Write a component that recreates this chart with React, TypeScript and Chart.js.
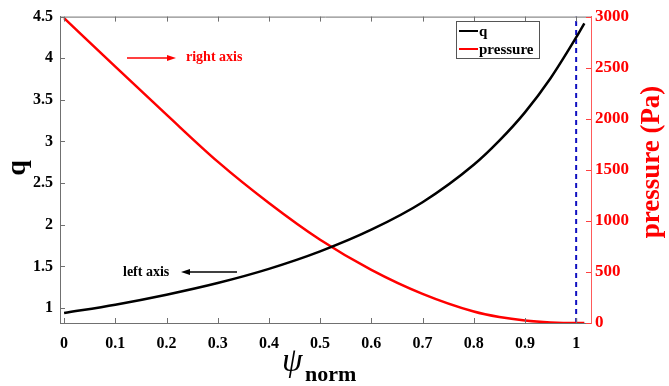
import { useEffect, useRef } from 'react';
import { Chart, registerables } from 'chart.js';

Chart.register(...registerables);

// ---- data ----
const PSI = [0, 0.1, 0.2, 0.3, 0.4, 0.5, 0.6, 0.7, 0.8, 0.85, 0.9, 0.95, 1.0, 1.016];
const Q = [0.94, 1.04, 1.16, 1.30, 1.47, 1.68, 1.94, 2.27, 2.72, 3.01, 3.35, 3.76, 4.25, 4.42];
const PRESSURE = [2985, 2510, 2040, 1580, 1175, 815, 520, 285, 112, 58, 24, 6, 0, 0];
const X_TICKS = [0, 0.1, 0.2, 0.3, 0.4, 0.5, 0.6, 0.7, 0.8, 0.9, 1];
const Q_TICKS = [1, 1.5, 2, 2.5, 3, 3.5, 4, 4.5];
const P_TICKS = [0, 500, 1000, 1500, 2000, 2500, 3000];
const SEPARATRIX = [1, 1];
const SEPARATRIX_Q = [0.82, 4.5];
const SERIES_NAMES = ['q', 'pressure'];

const FONT = '"Liberation Serif", "Times New Roman", serif';
const AXIS_GRAY = '#707070';
const RED = '#ff0000';

function arrow(ctx: CanvasRenderingContext2D, x1: number, x2: number, y: number, color: string) {
  ctx.save();
  ctx.strokeStyle = color;
  ctx.fillStyle = color;
  ctx.lineWidth = 1.5;
  const dir = Math.sign(x2 - x1);
  ctx.beginPath();
  ctx.moveTo(x1, y);
  ctx.lineTo(x2 - dir * 7, y);
  ctx.stroke();
  ctx.beginPath();
  ctx.moveTo(x2, y);
  ctx.lineTo(x2 - dir * 9, y - 3);
  ctx.lineTo(x2 - dir * 9, y + 3);
  ctx.closePath();
  ctx.fill();
  ctx.restore();
}

const overlay = {
  id: 'overlay',
  afterDraw(chart: any) {
    const ctx: CanvasRenderingContext2D = chart.ctx;
    const { left, right, top, bottom } = chart.chartArea;
    const sx = chart.scales.x;
    const sy = chart.scales.y;
    const sy1 = chart.scales.y1;
    ctx.save();
    // top border
    ctx.strokeStyle = AXIS_GRAY;
    ctx.lineWidth = 1;
    ctx.beginPath();
    ctx.moveTo(left, top + 0.5);
    ctx.lineTo(right, top + 0.5);
    ctx.stroke();
    // inward ticks
    const TL = 5;
    ctx.beginPath();
    X_TICKS.forEach((v) => {
      const px = Math.round(sx.getPixelForValue(v)) + 0.5;
      ctx.moveTo(px, bottom);
      ctx.lineTo(px, bottom - TL);
      ctx.moveTo(px, top);
      ctx.lineTo(px, top + TL);
    });
    Q_TICKS.forEach((v) => {
      const py = Math.round(sy.getPixelForValue(v)) + 0.5;
      ctx.moveTo(left, py);
      ctx.lineTo(left + TL, py);
    });
    ctx.stroke();
    ctx.strokeStyle = '#ff4040';
    ctx.beginPath();
    P_TICKS.forEach((v) => {
      const py = Math.round(sy1.getPixelForValue(v)) + 0.5;
      ctx.moveTo(right, py);
      ctx.lineTo(right - TL, py);
    });
    ctx.stroke();

    // legend
    const lx = 456, ly = 21, lw = 83, lh = 37;
    ctx.fillStyle = '#fff';
    ctx.fillRect(lx, ly, lw, lh);
    ctx.strokeStyle = '#555';
    ctx.lineWidth = 1;
    ctx.strokeRect(lx + 0.5, ly + 0.5, lw, lh);
    const colors = ['#000', RED];
    const rows = [31, 49];
    ctx.font = `bold 15px ${FONT}`;
    ctx.textBaseline = 'middle';
    ctx.textAlign = 'left';
    SERIES_NAMES.forEach((name, i) => {
      ctx.strokeStyle = colors[i];
      ctx.lineWidth = 2;
      ctx.beginPath();
      ctx.moveTo(459, rows[i]);
      ctx.lineTo(478, rows[i]);
      ctx.stroke();
      ctx.fillStyle = '#000';
      ctx.fillText(name, 479, rows[i] + 1);
    });

    // annotations
    ctx.font = `bold 14px ${FONT}`;
    ctx.fillStyle = RED;
    ctx.fillText('right axis', 186, 57);
    arrow(ctx, 127, 176, 58, RED);
    ctx.fillStyle = '#000';
    ctx.fillText('left axis', 123, 272);
    arrow(ctx, 237, 181, 272, '#000');

    // axis titles
    ctx.save();
    ctx.translate(18, 168);
    ctx.rotate(-Math.PI / 2);
    ctx.textAlign = 'center';
    ctx.textBaseline = 'middle';
    ctx.font = `bold 28px ${FONT}`;
    ctx.fillStyle = '#000';
    ctx.fillText('q', 0, 0);
    ctx.restore();

    ctx.save();
    ctx.translate(652, 162);
    ctx.rotate(-Math.PI / 2);
    ctx.textAlign = 'center';
    ctx.textBaseline = 'middle';
    ctx.font = `bold 27px ${FONT}`;
    ctx.fillStyle = RED;
    ctx.fillText('pressure (Pa)', 0, 0);
    ctx.restore();

    ctx.textAlign = 'left';
    ctx.textBaseline = 'alphabetic';
    ctx.fillStyle = '#000';
    ctx.font = `italic 33px ${FONT}`;
    ctx.fillText('ψ', 282, 371);
    ctx.font = `bold 22px ${FONT}`;
    ctx.fillText('norm', 305, 381);
    ctx.restore();
  },
};

export default function App() {
  const ref = useRef<HTMLCanvasElement | null>(null);
  useEffect(() => {
    if (!ref.current) return;
    const tickFont = { family: FONT, size: 16, weight: 'bold' as const };
    const chart = new Chart(ref.current, {
      type: 'line',
      data: {
        datasets: [
          {
            label: SERIES_NAMES[0],
            data: PSI.map((x, i) => ({ x, y: Q[i] })),
            borderColor: '#000',
            borderWidth: 2.5,
            pointRadius: 0,
            cubicInterpolationMode: 'monotone',
            yAxisID: 'y',
          },
          {
            label: SERIES_NAMES[1],
            data: PSI.map((x, i) => ({ x, y: PRESSURE[i] })),
            borderColor: RED,
            borderWidth: 2.5,
            pointRadius: 0,
            cubicInterpolationMode: 'monotone',
            yAxisID: 'y1',
          },
          {
            label: 'separatrix',
            data: SEPARATRIX.map((x, i) => ({ x, y: SEPARATRIX_Q[i] })),
            borderColor: '#1010c0',
            borderWidth: 2,
            borderDash: [5, 4],
            pointRadius: 0,
            yAxisID: 'y',
          },
        ],
      },
      options: {
        animation: false,
        responsive: false,
        devicePixelRatio: 1,
        layout: { padding: { top: 9, left: 0, right: 0, bottom: 0 } },
        plugins: { legend: { display: false }, tooltip: { enabled: false } },
        scales: {
          x: {
            type: 'linear',
            position: 'bottom',
            min: -0.008,
            max: 1.029,
            afterBuildTicks: (s: any) => {
              s.ticks = X_TICKS.map((v) => ({ value: v }));
            },
            afterFit: (s: any) => {
              s.height = 63;
            },
            ticks: {
              callback: (v: any) => String(v),
              font: tickFont,
              color: '#000',
              padding: 11,
              maxRotation: 0,
              autoSkip: false,
            },
            grid: { display: false, drawTicks: false },
            border: { display: true, color: AXIS_GRAY, width: 1 },
          },
          y: {
            type: 'linear',
            position: 'left',
            min: 0.82,
            max: 4.5,
            afterBuildTicks: (s: any) => {
              s.ticks = Q_TICKS.map((v) => ({ value: v }));
            },
            afterFit: (s: any) => {
              s.width = 60;
            },
            ticks: {
              callback: (v: any) => String(v),
              font: tickFont,
              color: '#000',
              padding: 7,
              autoSkip: false,
            },
            grid: { display: false, drawTicks: false },
            border: { display: true, color: AXIS_GRAY, width: 1 },
          },
          y1: {
            type: 'linear',
            position: 'right',
            min: 0,
            max: 3000,
            afterBuildTicks: (s: any) => {
              s.ticks = P_TICKS.map((v) => ({ value: v }));
            },
            afterFit: (s: any) => {
              s.width = 78;
            },
            ticks: {
              callback: (v: any) => String(v),
              font: { family: FONT, size: 17, weight: 'bold' as const },
              color: RED,
              padding: 4,
              autoSkip: false,
            },
            grid: { display: false, drawTicks: false },
            border: { display: true, color: '#ff5a5a', width: 1 },
          },
        },
      },
      plugins: [overlay],
    } as any);
    return () => chart.destroy();
  }, []);
  return (
    <div style={{ position: 'absolute', left: 0, top: 0, width: 669, height: 386, background: '#fff' }}>
      <canvas ref={ref} width={669} height={386} style={{ display: 'block', width: 669, height: 386 }} />
    </div>
  );
}
